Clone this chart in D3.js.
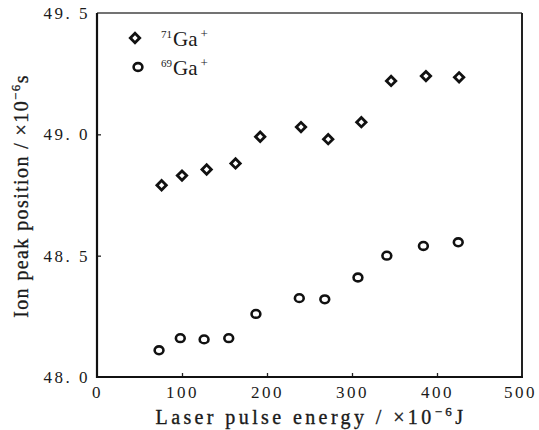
<!DOCTYPE html>
<html>
<head>
<meta charset="utf-8">
<script src="https://cdn.jsdelivr.net/npm/d3@7"></script>
<style>
  html, body { margin: 0; padding: 0; background: #fff; }
  svg { display: block; }
  text { font-family: "Liberation Serif", "DejaVu Serif", serif; fill: #1a1a1a; }
</style>
</head>
<body>
<svg id="chart" width="539" height="430"></svg>
<script>
// Laser pulse energy (×10^-6 J) and ion peak position (×10^-6 s)
const energy71 = [76, 100, 129, 163, 192, 240, 272, 311, 346, 387, 426];
const peak71   = [48.79, 48.83, 48.855, 48.88, 48.99, 49.03, 48.98, 49.05, 49.22, 49.24, 49.235];
const energy69 = [73, 98, 126, 155, 187, 238, 268, 307, 341, 384, 425];
const peak69   = [48.11, 48.16, 48.155, 48.16, 48.26, 48.325, 48.32, 48.41, 48.50, 48.54, 48.555];
const xTicks = [0, 100, 200, 300, 400, 500];
const yTicks = [48.0, 48.5, 49.0, 49.5];

const svg = d3.select("#chart");
const plotLeft = 97, plotRight = 522, plotTop = 13, plotBottom = 377;

const x = d3.scaleLinear().domain([0, 500]).range([plotLeft, plotRight]);
const y = d3.scaleLinear().domain([48.0, 49.5]).range([plotBottom, plotTop]);

// Axes with inward ticks
const xAxis = d3.axisBottom(x).tickValues(xTicks).tickSizeInner(-4).tickSizeOuter(0)
  .tickPadding(8).tickFormat(d3.format("d"));
const yAxis = d3.axisLeft(y).tickValues(yTicks).tickSizeInner(-4).tickSizeOuter(0)
  .tickPadding(7).tickFormat(d => d3.format(".1f")(d).replace(".", ". "));

const gx = svg.append("g").attr("transform", `translate(0,${plotBottom})`).call(xAxis);
const gy = svg.append("g").attr("transform", `translate(${plotLeft},0)`).call(yAxis);

[gx, gy].forEach(g => {
  g.select(".domain").remove();
  g.selectAll(".tick line").attr("stroke", "#222").attr("stroke-width", 1.3);
  g.selectAll(".tick text").attr("font-size", 17).attr("fill", "#3a3a3a")
    .attr("letter-spacing", "2.5px");
});
gx.selectAll(".tick").filter(d => d === 0 || d === 500).select("line").remove();
gy.selectAll(".tick").filter(d => d === 48.0 || d === 49.5).select("line").remove();
gx.selectAll(".tick text").attr("dy", "0.75em");
gx.selectAll(".tick").filter(d => d === 500).select("text").attr("dx", -2);

// Frame
svg.append("line").attr("x1", plotLeft).attr("x2", plotRight).attr("y1", plotTop).attr("y2", plotTop)
  .attr("stroke", "#444").attr("stroke-width", 1.5);
svg.append("line").attr("x1", plotRight).attr("x2", plotRight).attr("y1", plotTop).attr("y2", plotBottom)
  .attr("stroke", "#222").attr("stroke-width", 2);
svg.append("line").attr("x1", plotLeft).attr("x2", plotLeft).attr("y1", plotTop).attr("y2", plotBottom + 1)
  .attr("stroke", "#111").attr("stroke-width", 2.2);
svg.append("line").attr("x1", plotLeft - 1).attr("x2", plotRight + 1).attr("y1", plotBottom).attr("y2", plotBottom)
  .attr("stroke", "#111").attr("stroke-width", 2.2);

// Marker shapes
const diamond = d3.symbol().type(d3.symbolSquare).size(44)();
function drawDiamond(g, cx, cy) {
  g.append("path").attr("d", diamond)
    .attr("transform", `translate(${cx},${cy}) rotate(45)`)
    .attr("fill", "#fff").attr("stroke", "#111").attr("stroke-width", 2.8);
}
function drawCircle(g, cx, cy) {
  g.append("ellipse").attr("cx", cx).attr("cy", cy).attr("rx", 4.4).attr("ry", 3.9)
    .attr("fill", "#fff").attr("stroke", "#111").attr("stroke-width", 2.6);
}

const pts = svg.append("g");
energy71.forEach((e, i) => drawDiamond(pts, x(e), y(peak71[i])));
energy69.forEach((e, i) => drawCircle(pts, x(e), y(peak69[i])));

// Legend
const leg = svg.append("g");
drawDiamond(leg, 135, 38);
drawCircle(leg, 138, 67);
function isotopeLabel(tx, ty, mass) {
  const t = leg.append("text").attr("x", tx).attr("y", ty).attr("font-size", 21);
  t.append("tspan").attr("font-size", 11).attr("dy", -8).text(mass);
  t.append("tspan").attr("dy", 8).attr("dx", 1).text("Ga");
  t.append("tspan").attr("font-size", 13).attr("dy", -8).attr("dx", 3).text("+");
}
isotopeLabel(161, 46, "71");
isotopeLabel(161, 75, "69");

// Axis titles
const xt = svg.append("text").attr("x", 311).attr("y", 424)
  .attr("text-anchor", "middle").attr("font-size", 20).attr("letter-spacing", "3.4px")
  .attr("stroke", "#1a1a1a").attr("stroke-width", 0.35);
xt.append("tspan").text("Laser pulse energy / ×10");
xt.append("tspan").attr("font-size", 13).attr("dy", -8).text("−6");
xt.append("tspan").attr("dy", 8).text("J");

const yt = svg.append("text").attr("transform", "translate(28,196) rotate(-90)")
  .attr("text-anchor", "middle").attr("font-size", 20).attr("letter-spacing", "1.4px")
  .attr("stroke", "#1a1a1a").attr("stroke-width", 0.3);
yt.append("tspan").text("Ion peak position / ×10");
yt.append("tspan").attr("font-size", 13).attr("dy", -8).text("−6");
yt.append("tspan").attr("dy", 8).text("s");
</script>
</body>
</html>
